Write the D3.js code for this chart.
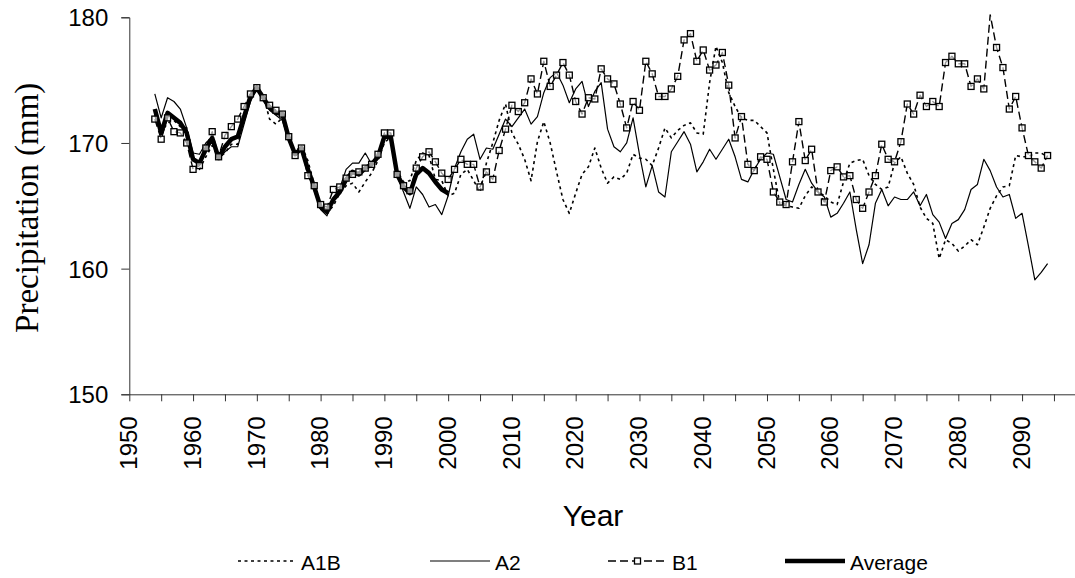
<!DOCTYPE html>
<html>
<head>
<meta charset="utf-8">
<script src="https://cdn.jsdelivr.net/npm/d3@7"></script>
<style>
  html, body { margin: 0; padding: 0; background: #fff; }
  svg { display: block; }
</style>
</head>
<body>
<svg id="chart" width="1075" height="578"></svg>
<script>
// ---------- DATA ----------
const firstYear = 1954;
const xTickValues = [1950,1955,1960,1965,1970,1975,1980,1985,1990,1995,2000,2005,2010,2015,2020,2025,2030,2035,2040,2045,2050,2055,2060,2065,2070,2075,2080,2085,2090,2095];
const xTickLabels = [1950,1960,1970,1980,1990,2000,2010,2020,2030,2040,2050,2060,2070,2080,2090];
const yTickValues = [150,160,170,180];
const seriesNames = ["A1B","A2","B1","Average"];

const a1b = [
  172.3,170.8,171.6,171.8,171.3,171.2,169.0,167.9,168.9,169.8,
  168.8,169.2,169.9,169.9,171.9,173.9,174.5,173.8,171.9,171.5,
  172.0,170.5,169.3,169.8,168.6,166.7,164.9,164.4,165.0,166.0,
  166.6,166.8,166.1,166.9,167.6,168.6,170.0,170.5,167.8,166.9,
  167.0,168.6,169.2,169.0,167.1,167.0,165.8,166.0,167.5,167.9,
  167.0,166.1,168.4,170.0,171.8,173.1,170.8,169.9,168.7,167.0,
  170.1,171.7,170.0,167.7,165.5,164.4,166.0,167.5,168.1,169.6,
  168.0,166.8,167.3,167.1,167.6,169.1,168.8,168.7,168.2,169.6,
  171.2,170.4,171.0,171.4,171.6,170.8,170.7,174.8,177.7,176.4,
  174.0,172.9,172.0,171.8,171.8,171.3,170.8,167.9,165.2,165.0,
  164.9,164.8,165.8,166.5,166.1,165.8,165.3,165.1,166.9,168.4,
  168.6,168.7,167.4,166.7,166.3,166.5,168.4,168.9,167.6,166.7,
  164.9,164.0,163.6,160.8,162.3,162.0,161.4,161.8,162.3,161.9,
  163.3,164.8,165.8,166.5,166.6,169.0,168.9,168.9,169.2,169.2,
  168.9
];

const a2 = [
  173.9,172.0,173.6,173.3,172.7,171.2,169.2,169.1,170.0,170.5,
  168.7,169.3,169.7,169.7,171.5,173.3,174.3,173.4,172.6,172.2,
  171.8,170.2,169.0,169.4,167.7,166.2,164.7,164.2,165.6,166.4,
  167.9,168.4,168.4,169.2,168.3,168.9,170.7,170.2,167.4,166.1,
  164.8,166.5,165.9,164.9,165.1,164.3,165.8,168.0,169.3,170.3,
  170.7,168.7,169.6,169.5,170.7,171.9,171.3,172.0,172.7,171.5,
  172.1,174.0,175.2,175.6,174.6,173.2,174.3,174.9,172.9,174.1,
  174.8,171.1,169.7,169.3,170.0,172.0,169.1,166.5,168.2,166.1,
  165.7,169.3,170.1,170.9,169.9,167.7,168.5,169.5,168.7,169.5,
  170.3,168.9,167.1,166.9,167.9,168.7,169.2,169.1,167.3,165.5,
  165.3,166.7,167.9,166.8,166.1,165.7,164.1,164.4,165.2,166.1,
  163.1,160.4,161.9,165.2,166.3,165.0,165.7,165.5,165.5,166.1,
  165.0,165.9,164.3,163.7,162.4,163.6,163.9,164.7,166.3,166.7,
  168.7,167.8,166.5,165.7,165.9,164.0,164.4,161.8,159.1,159.7,
  160.4
];

const b1 = [
  171.9,170.3,172.0,170.9,170.8,170.0,167.9,168.2,169.6,170.9,
  168.9,170.6,171.3,171.9,172.9,173.9,174.4,173.6,173.0,172.6,
  172.3,170.5,169.0,169.6,167.4,166.6,165.1,164.9,166.3,166.5,
  167.2,167.5,167.7,168.0,168.3,169.1,170.8,170.8,167.5,166.6,
  166.2,168.0,168.9,169.3,168.5,167.6,167.1,167.9,168.7,168.3,
  168.3,166.5,167.7,167.1,169.4,171.1,173.0,172.5,173.2,175.1,
  173.9,176.5,174.5,175.4,176.4,175.4,173.3,172.3,173.6,173.5,
  175.9,175.1,174.7,173.1,171.2,173.3,172.6,176.5,175.5,173.7,
  173.7,174.3,175.3,178.2,178.7,176.5,177.4,175.8,176.2,177.2,
  174.6,170.4,172.1,168.3,167.8,168.9,168.7,166.1,165.3,165.1,
  168.5,171.7,168.6,169.5,166.1,165.3,167.8,168.1,167.3,167.4,
  165.5,164.8,166.1,167.4,169.9,168.7,168.5,170.1,173.1,172.3,
  173.8,172.9,173.3,172.9,176.4,176.9,176.3,176.3,174.5,175.1,
  174.3,180.2,177.6,176.0,172.7,173.7,171.2,169.0,168.5,168.0,
  169.0
];

const average = [
  172.7,170.8,172.4,172.0,171.6,170.8,168.7,168.4,169.5,170.4,
  168.8,169.7,170.3,170.5,172.1,173.7,174.4,173.6,172.8,172.4,
  172.3,170.4,169.1,169.6,167.9,166.5,164.9,164.5,165.5,166.1,
  167.1,167.7,167.5,168.0,168.3,168.9,170.5,170.5,167.5,166.5,
  166.0,167.5,168.0,167.6,166.9,166.3,166.0
];

// ---------- LAYOUT ----------
const svg = d3.select("#chart");
const x = d3.scaleLinear().domain([1950, 2098.3]).range([129.3, 1075]);
const y = d3.scaleLinear().domain([150, 180]).range([394.3, 17.3]);
const axisColor = "#333";
const sans = "Liberation Sans, Arial, Helvetica, sans-serif";

const toPts = arr => arr.map((v, i) => ({ year: firstYear + i, value: v }));
const line = d3.line().x(d => x(d.year)).y(d => y(d.value));

// clip to plot area (slightly above top)
svg.append("defs").append("clipPath").attr("id", "plotClip")
  .append("rect").attr("x", x(1950)).attr("y", y(180) - 3)
  .attr("width", x(2098.3) - x(1950)).attr("height", y(150) - y(180) + 3);

// ---------- AXES ----------
const yAxis = d3.axisLeft(y).tickValues(yTickValues).tickSize(8).tickPadding(13).tickFormat(d3.format("d"));
const gy = svg.append("g").attr("transform", `translate(${x(1950)},0)`).call(yAxis);
gy.select(".domain").attr("stroke", axisColor).attr("stroke-width", 1);
gy.selectAll(".tick line").attr("stroke", axisColor);
gy.selectAll(".tick text").attr("font-family", sans).attr("font-size", 24).attr("fill", "#000").attr("dy", "0.36em");

const xAxis = d3.axisBottom(x).tickValues(xTickValues).tickSize(7).tickSizeOuter(0)
  .tickFormat(d => xTickLabels.includes(d) ? String(d) : "");
const gx = svg.append("g").attr("transform", `translate(0,${y(150)})`).call(xAxis);
gx.select(".domain").attr("stroke", axisColor).attr("stroke-width", 1);
gx.selectAll(".tick line").attr("stroke", axisColor);
gx.selectAll(".tick text")
  .attr("font-family", sans).attr("font-size", 24).attr("fill", "#000")
  .attr("text-anchor", "end")
  .attr("transform", "rotate(-90)")
  .attr("x", -22).attr("y", 0).attr("dy", "0.3em");

// axis titles
svg.append("text")
  .attr("transform", `translate(38,${(y(150) + y(180)) / 2 + 2}) rotate(-90)`)
  .attr("text-anchor", "middle")
  .attr("font-family", "Liberation Serif, Times New Roman, serif")
  .attr("font-size", 33).attr("fill", "#000")
  .text("Precipitation (mm)");

svg.append("text")
  .attr("x", 593).attr("y", 526)
  .attr("text-anchor", "middle")
  .attr("font-family", sans).attr("font-size", 30).attr("fill", "#000")
  .text("Year");

// ---------- SERIES ----------
const plot = svg.append("g").attr("clip-path", "url(#plotClip)");
const styles = {
  "A1B": { width: 1.6, dash: "3,3.5" },
  "A2": { width: 1.2, dash: null },
  "B1": { width: 1.4, dash: "8,4" },
  "Average": { width: 4.5, dash: null }
};
const dataByName = { "A1B": a1b, "A2": a2, "B1": b1, "Average": average };

["A1B", "A2", "Average", "B1"].forEach(name => {
  const st = styles[name];
  plot.append("path")
    .datum(toPts(dataByName[name]))
    .attr("d", line)
    .attr("fill", "none")
    .attr("stroke", "#000")
    .attr("stroke-width", st.width)
    .attr("stroke-linejoin", "round")
    .attr("stroke-dasharray", st.dash);
});

// B1 square markers
const ms = 6;
plot.selectAll("rect.b1m")
  .data(toPts(b1).filter(d => d.value < 180))
  .join("rect")
  .attr("class", "b1m")
  .attr("x", d => x(d.year) - ms / 2)
  .attr("y", d => y(d.value) - ms / 2)
  .attr("width", ms).attr("height", ms)
  .attr("fill", "#fff").attr("fill-opacity", 0.6)
  .attr("stroke", "#000").attr("stroke-width", 1.3);

// ---------- LEGEND ----------
const legendItems = [
  { name: "A1B", x0: 238, x1: 296 },
  { name: "A2", x0: 430, x1: 490 },
  { name: "B1", x0: 608, x1: 667 },
  { name: "Average", x0: 785, x1: 845 }
];
const ly = 561;
const lg = svg.append("g");
legendItems.forEach(it => {
  const st = styles[it.name];
  lg.append("line")
    .attr("x1", it.x0).attr("x2", it.x1).attr("y1", ly).attr("y2", ly)
    .attr("stroke", "#000").attr("stroke-width", st.width)
    .attr("stroke-dasharray", st.dash);
  if (it.name === "B1") {
    lg.append("rect")
      .attr("x", (it.x0 + it.x1) / 2 - 3).attr("y", ly - 3)
      .attr("width", 6).attr("height", 6)
      .attr("fill", "#fff").attr("stroke", "#000").attr("stroke-width", 1.3);
  }
  lg.append("text")
    .attr("x", it.x1 + 5).attr("y", ly + 8.5)
    .attr("font-family", sans).attr("font-size", 21).attr("fill", "#000")
    .text(it.name);
});
</script>
</body>
</html>
